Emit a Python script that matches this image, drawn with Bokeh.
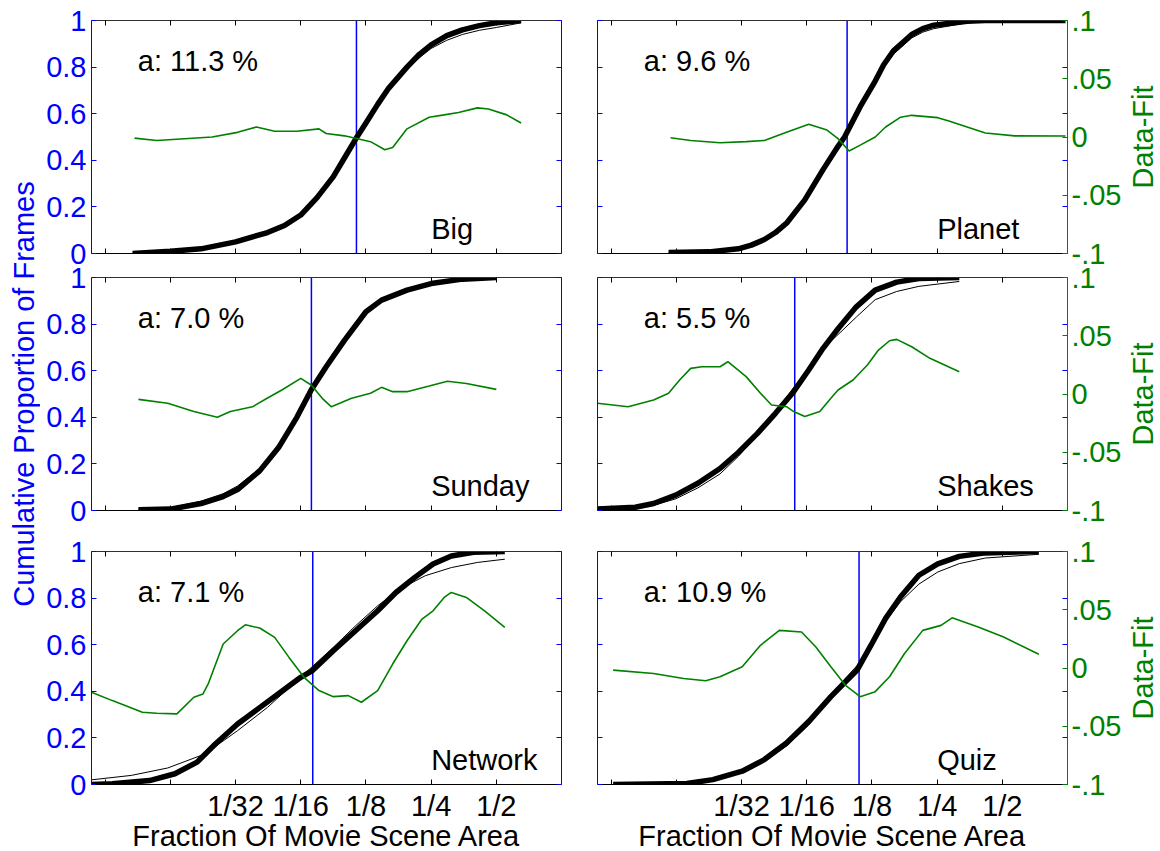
import numpy as np
from bokeh.plotting import figure
from bokeh.models import LogAxis, LinearAxis, FixedTicker, Range1d, Span
from bokeh.layouts import row, column
from bokeh.core.properties import value
from bokeh.embed import file_html
from bokeh.resources import INLINE

FONT = "Liberation Sans"
FS = "29px"
BLUE = "#0000ff"
GREEN = "#008000"

# ---------------- data (x given as log2 of fraction of movie scene area) ----------------
names = ["Big", "Planet", "Sunday", "Shakes", "Network", "Quiz"]
a_percent = [11.3, 9.6, 7.0, 5.5, 7.1, 10.9]

x_tick_exponents = [-7, -6, -5, -4, -3, -2, -1]
x_tick_labels = ["", "", "1/32", "1/16", "1/8", "1/4", "1/2"]
y_ticks = [0, 0.2, 0.4, 0.6, 0.8, 1]
y_tick_labels = ["0", "0.2", "0.4", "0.6", "0.8", "1"]
res_ticks = [-0.1, -0.05, 0, 0.05, 0.1]
res_tick_labels = ["-.1", "-.05", "0", ".05", ".1"]

big_data_x = [-6.58, -6.0, -5.53, -5.0, -4.51, -4.25, -4.0, -3.75, -3.5, -3.33, -3.16, -3.0, -2.82, -2.65, -2.37, -2.18, -2.0, -1.76, -1.52, -1.26, -1.0, -0.62]
big_data_y = [0.0, 0.01, 0.02, 0.05, 0.09, 0.12, 0.165, 0.24, 0.33, 0.41, 0.49, 0.56, 0.64, 0.71, 0.80, 0.855, 0.895, 0.935, 0.96, 0.978, 0.99, 1.0]
big_fit_y = [0.002, 0.012, 0.022, 0.048, 0.085, 0.118, 0.163, 0.235, 0.328, 0.405, 0.49, 0.565, 0.64, 0.70, 0.79, 0.84, 0.88, 0.915, 0.94, 0.958, 0.97, 0.99]
big_res_x = [-6.55, -6.21, -5.36, -4.97, -4.68, -4.40, -4.06, -3.72, -3.61, -3.33, -3.16, -2.93, -2.71, -2.59, -2.37, -2.03, -1.80, -1.58, -1.29, -1.12, -0.84, -0.62]
big_res_y = [-0.001, -0.003, 0.0, 0.004, 0.0086, 0.005, 0.005, 0.007, 0.003, 0.001, -0.001, -0.004, -0.011, -0.009, 0.007, 0.017, 0.019, 0.021, 0.025, 0.024, 0.019, 0.012]

planet_data_x = [-6.12, -5.50, -5.05, -4.85, -4.65, -4.48, -4.31, -4.03, -3.75, -3.52, -3.42, -3.18, -2.95, -2.82, -2.67, -2.39, -2.22, -2.05, -1.54, -1.26, -0.03]
planet_data_y = [0.004, 0.007, 0.02, 0.036, 0.06, 0.09, 0.13, 0.23, 0.36, 0.46, 0.50, 0.63, 0.74, 0.81, 0.87, 0.94, 0.965, 0.98, 0.997, 1.0, 1.0]
planet_fit_y = [0.003, 0.01, 0.025, 0.04, 0.063, 0.092, 0.13, 0.225, 0.355, 0.46, 0.505, 0.63, 0.74, 0.80, 0.855, 0.925, 0.95, 0.965, 0.99, 0.996, 1.0]
planet_res_x = [-6.09, -5.78, -5.33, -4.93, -4.65, -4.31, -3.97, -3.69, -3.52, -3.35, -3.18, -2.95, -2.79, -2.56, -2.39, -1.99, -1.82, -1.54, -1.26, -0.81, -0.03]
planet_res_y = [-0.0006, -0.003, -0.005, -0.004, -0.003, 0.004, 0.011, 0.006, -0.0014, -0.012, -0.007, 0.0, 0.0086, 0.017, 0.0186, 0.0166, 0.0137, 0.0086, 0.0034, 0.001, 0.0009]

sunday_data_x = [-6.49, -6.0, -5.53, -5.19, -4.97, -4.63, -4.34, -4.06, -3.84, -3.61, -3.33, -3.0, -2.76, -2.37, -2.0, -1.52, -1.0]
sunday_data_y = [0.003, 0.006, 0.03, 0.06, 0.09, 0.17, 0.27, 0.40, 0.517, 0.617, 0.73, 0.853, 0.903, 0.946, 0.974, 0.993, 1.0]
sunday_fit_y = [0.005, 0.012, 0.04, 0.072, 0.105, 0.18, 0.28, 0.395, 0.51, 0.62, 0.73, 0.85, 0.90, 0.943, 0.97, 0.99, 0.996]
sunday_res_x = [-6.49, -6.04, -5.64, -5.28, -5.08, -4.74, -4.51, -4.29, -4.0, -3.84, -3.67, -3.53, -3.22, -2.93, -2.76, -2.59, -2.37, -2.03, -1.75, -1.46, -1.0]
sunday_res_y = [-0.0046, -0.008, -0.015, -0.020, -0.015, -0.011, -0.0034, 0.0034, 0.0134, 0.0077, -0.0037, -0.011, -0.0037, 0.0006, 0.0057, 0.002, 0.002, 0.0069, 0.011, 0.009, 0.004]

shakes_data_x = [-7.21, -6.63, -6.35, -6.01, -5.67, -5.33, -5.05, -4.76, -4.48, -4.22, -3.97, -3.75, -3.52, -3.24, -2.95, -2.62, -2.28, -1.66]
shakes_data_y = [0.006, 0.014, 0.03, 0.066, 0.117, 0.18, 0.249, 0.33, 0.417, 0.503, 0.603, 0.696, 0.78, 0.874, 0.946, 0.98, 0.996, 1.0]
shakes_fit_y = [0.004, 0.01, 0.022, 0.05, 0.097, 0.157, 0.232, 0.325, 0.425, 0.52, 0.612, 0.695, 0.755, 0.83, 0.905, 0.94, 0.962, 0.983]
shakes_res_x = [-7.21, -6.74, -6.35, -6.12, -5.95, -5.78, -5.61, -5.33, -5.21, -4.93, -4.71, -4.54, -4.31, -4.20, -4.03, -3.80, -3.63, -3.52, -3.29, -3.07, -2.90, -2.73, -2.62, -2.39, -2.11, -1.66]
shakes_res_y = [-0.008, -0.0109, -0.0051, 0.0006, 0.012, 0.022, 0.0234, 0.0234, 0.0277, 0.0149, 0.0006, -0.0094, -0.0109, -0.0151, -0.0194, -0.0151, -0.0037, 0.0034, 0.012, 0.0249, 0.0377, 0.0457, 0.0469, 0.0406, 0.0306, 0.0191]

network_data_x = [-7.21, -6.89, -6.32, -5.93, -5.59, -5.31, -4.97, -4.63, -4.29, -4.0, -3.82, -3.50, -3.16, -2.82, -2.54, -2.25, -1.97, -1.69, -1.35, -0.87]
network_data_y = [0.0, 0.003, 0.017, 0.046, 0.096, 0.174, 0.26, 0.33, 0.40, 0.46, 0.489, 0.574, 0.66, 0.746, 0.824, 0.889, 0.946, 0.981, 0.997, 1.0]
network_fit_x = [-7.21, -6.60, -6.04, -5.47, -4.97, -4.51, -4.06, -3.78, -3.50, -3.16, -2.82, -2.48, -2.09, -1.69, -1.29, -0.87]
network_fit_y = [0.02, 0.039, 0.071, 0.131, 0.231, 0.331, 0.446, 0.517, 0.589, 0.681, 0.767, 0.839, 0.896, 0.931, 0.953, 0.967]
network_res_x = [-7.21, -6.89, -6.43, -6.21, -5.90, -5.64, -5.50, -5.42, -5.19, -4.97, -4.85, -4.63, -4.40, -4.18, -3.95, -3.72, -3.50, -3.27, -3.07, -2.82, -2.59, -2.37, -2.14, -1.97, -1.80, -1.69, -1.46, -1.18, -0.87]
network_res_y = [-0.0209, -0.028, -0.038, -0.0389, -0.0394, -0.0251, -0.0223, -0.0137, 0.0206, 0.032, 0.0371, 0.0343, 0.0263, 0.0091, -0.008, -0.0194, -0.0246, -0.0237, -0.0294, -0.0194, 0.0034, 0.0234, 0.042, 0.0491, 0.0606, 0.0649, 0.0606, 0.0491, 0.0349]

quiz_data_x = [-6.97, -5.84, -5.44, -4.99, -4.65, -4.31, -3.97, -3.63, -3.41, -3.23, -3.01, -2.79, -2.56, -2.28, -1.99, -1.66, -1.26, -0.44]
quiz_data_y = [0.0, 0.004, 0.021, 0.057, 0.107, 0.178, 0.27, 0.377, 0.44, 0.49, 0.60, 0.713, 0.806, 0.898, 0.947, 0.979, 0.994, 1.0]
quiz_fit_y = [0.0, 0.007, 0.025, 0.055, 0.1, 0.165, 0.255, 0.37, 0.455, 0.51, 0.61, 0.70, 0.785, 0.86, 0.912, 0.948, 0.972, 0.988]
quiz_res_x = [-6.97, -6.35, -5.89, -5.55, -5.33, -4.99, -4.71, -4.42, -4.08, -3.86, -3.63, -3.41, -3.18, -2.95, -2.73, -2.50, -2.22, -1.94, -1.77, -1.37, -0.98, -0.44]
quiz_res_y = [-0.0018, -0.0047, -0.009, -0.011, -0.0075, 0.001, 0.0195, 0.0323, 0.0309, 0.018, 0.001, -0.0146, -0.0246, -0.0203, -0.0075, 0.0124, 0.0323, 0.0366, 0.0431, 0.0351, 0.0266, 0.0118]

panels = [
    (big_data_x, big_data_y, big_data_x, big_fit_y, big_res_x, big_res_y),
    (planet_data_x, planet_data_y, planet_data_x, planet_fit_y, planet_res_x, planet_res_y),
    (sunday_data_x, sunday_data_y, sunday_data_x, sunday_fit_y, sunday_res_x, sunday_res_y),
    (shakes_data_x, shakes_data_y, shakes_data_x, shakes_fit_y, shakes_res_x, shakes_res_y),
    (network_data_x, network_data_y, network_fit_x, network_fit_y, network_res_x, network_res_y),
    (quiz_data_x, quiz_data_y, quiz_data_x, quiz_fit_y, quiz_res_x, quiz_res_y),
]

X_LO, X_HI = -7.21, 0.0
x_ticks = [2.0 ** e for e in x_tick_exponents]


def pow2(v):
    return (2.0 ** np.asarray(v, dtype=float)).tolist()


def style_axis(ax, color, show_labels, label_color=None):
    ax.axis_line_color = color
    ax.axis_line_width = 1
    ax.major_tick_line_color = color
    ax.major_tick_in = 5
    ax.major_tick_out = 0
    ax.minor_tick_line_color = None
    ax.minor_tick_in = 0
    ax.minor_tick_out = 0
    if show_labels:
        ax.major_label_text_font = FONT
        ax.major_label_text_font_size = FS
        ax.major_label_text_color = label_color or color
        ax.major_label_standoff = 5
    else:
        ax.major_label_text_font_size = "0px"
        ax.major_label_text_color = None
        ax.major_label_standoff = 0


# row 1: 0..270, row 2 overlaps it by 10px (260..530), row 3: 530..851
tops = [20, 17, 21]
bottoms = [17, 20, 67]
row_margins = [None, (-10, 0, 0, 0), None]


def make_panel(idx):
    dx, dy, fx, fy, rx, ry = panels[idx]
    col, r = idx % 2, idx // 2
    bl, br = (51, 18) if col == 0 else (18, 53)
    p = figure(frame_width=470, frame_height=233, x_axis_type="log",
               x_range=Range1d(2 ** X_LO, 2 ** X_HI), y_range=Range1d(0, 1),
               x_axis_location=None, y_axis_location=None,
               min_border_left=bl, min_border_right=br,
               min_border_top=tops[r], min_border_bottom=bottoms[r],
               output_backend="svg", toolbar_location=None,
               outline_line_color=None, background_fill_color="white",
               border_fill_color=None)
    if row_margins[r] is not None:
        p.margin = row_margins[r]
    p.xgrid.visible = False
    p.ygrid.visible = False
    p.extra_y_ranges = {"res": Range1d(-0.1, 0.1)}

    # bottom x axis
    bx = LogAxis(ticker=FixedTicker(ticks=x_ticks))
    style_axis(bx, "black", r == 2)
    if r == 2:
        bx.major_label_overrides = dict(zip(x_ticks, x_tick_labels))
        bx.axis_label = "Fraction Of Movie Scene Area"
        bx.axis_label_text_font = FONT
        bx.axis_label_text_font_size = FS
        bx.axis_label_text_font_style = "normal"
        bx.axis_label_text_color = "black"
        bx.axis_label_standoff = -5
    p.add_layout(bx, "below")
    # top x axis (box)
    tx = LogAxis(ticker=FixedTicker(ticks=x_ticks))
    style_axis(tx, "#303030", False)
    tx.major_tick_line_color = "black"
    p.add_layout(tx, "above")

    # left y axis
    ly = LinearAxis(ticker=FixedTicker(ticks=y_ticks))
    style_axis(ly, BLUE, col == 0)
    if col == 0:
        ly.major_label_overrides = dict(zip(y_ticks, y_tick_labels))
    p.add_layout(ly, "left")

    # right side
    ry_box = LinearAxis(ticker=FixedTicker(ticks=y_ticks))
    style_axis(ry_box, BLUE, False)
    if col == 1:
        ry_box.axis_line_color = None
    p.add_layout(ry_box, "right")
    if col == 1:
        gy = LinearAxis(y_range_name="res", ticker=FixedTicker(ticks=res_ticks))
        style_axis(gy, GREEN, True)
        gy.major_label_overrides = dict(zip(res_ticks, res_tick_labels))
        gy.major_label_standoff = 4
        p.add_layout(gy, "right")

    vline = Span(location=a_percent[idx] / 100.0, dimension="height",
                 line_color=BLUE, line_width=1.5, level="underlay")
    p.add_layout(vline)

    p.line(pow2(dx), dy, line_color="black", line_width=5.5)
    p.line(pow2(fx), fy, line_color="black", line_width=1)
    p.line(pow2(rx), ry, line_color=GREEN, line_width=1.6, y_range_name="res")

    p.text(x=[2 ** -6.5], y=[0.826], text=["a: %.1f %%" % a_percent[idx]],
           text_font=value(FONT), text_font_size=FS, text_color="black",
           text_align="left", text_baseline="alphabetic")
    p.text(x=[2 ** -2.0], y=[0.106], text=[names[idx]],
           text_font=value(FONT), text_font_size=FS, text_color="black",
           text_align="left", text_baseline="alphabetic")
    return p


def side_fig(width):
    f = figure(width=width, height=851, x_range=Range1d(0, width), y_range=Range1d(0, 851),
               x_axis_location=None, y_axis_location=None, min_border=0,
               min_border_left=0, min_border_right=0, min_border_top=0, min_border_bottom=0,
               outline_line_color=None, output_backend="svg", toolbar_location=None,
               background_fill_color="white", border_fill_color="white")
    f.xgrid.visible = False
    f.ygrid.visible = False
    return f


left_lab = side_fig(40)
left_lab.text(x=[23], y=[851 - 393.5], text=["Cumulative Proportion of Frames"],
              angle=np.pi / 2, text_align="center", text_baseline="alphabetic",
              text_font=value(FONT), text_font_size=FS, text_color=BLUE)

right_lab = side_fig(40)
right_lab.text(x=[18, 18, 18], y=[851 - 136.5, 851 - 393.5, 851 - 667.5],
               text=["Data-Fit", "Data-Fit", "Data-Fit"],
               angle=np.pi / 2, text_align="center", text_baseline="alphabetic",
               text_font=value(FONT), text_font_size=FS, text_color=GREEN)

figs = [make_panel(i) for i in range(6)]
layout = row(left_lab, column(figs[0], figs[2], figs[4], spacing=0),
             column(figs[1], figs[3], figs[5], spacing=0), right_lab, spacing=0)

open("out.html", "w").write(file_html(layout, INLINE))
